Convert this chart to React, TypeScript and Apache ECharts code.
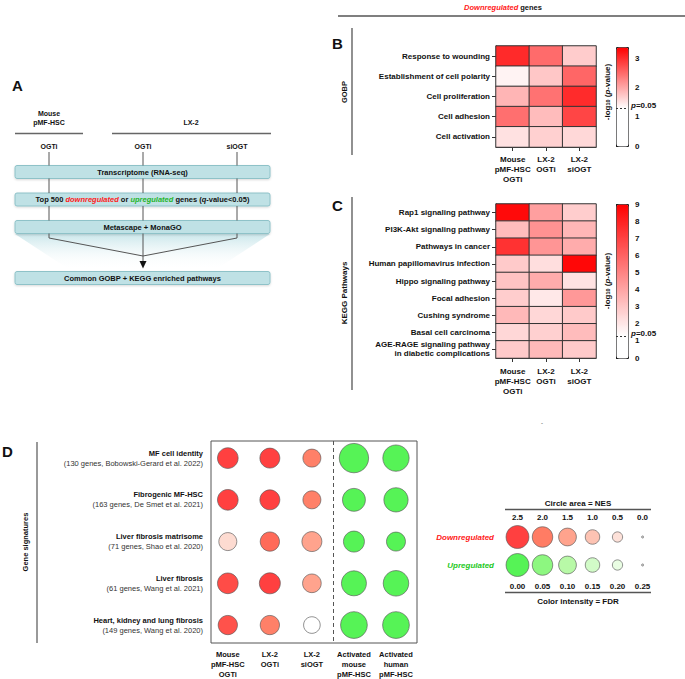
import React, { useEffect, useRef } from 'react';
import * as echarts from 'echarts';

const FONT = '"Liberation Sans", Arial, Helvetica, sans-serif';

// ---------- Panel B / C data ----------
const heatCols = ['Mouse\npMF-HSC\nOGTi', 'LX-2\nOGTi', 'LX-2\nsiOGT'];
const gobpTerms = [
  'Response to wounding',
  'Establishment of cell polarity',
  'Cell proliferation',
  'Cell adhesion',
  'Cell activation',
];
const gobpValues = [
  [3.05, 2.52, 1.72],
  [1.4, 1.76, 2.56],
  [1.91, 2.46, 3.04],
  [2.48, 1.85, 2.83],
  [1.55, 1.68, 1.62],
];
const keggTerms = [
  'Rap1 signaling pathway',
  'PI3K-Akt signaling pathway',
  'Pathways in cancer',
  'Human papillomavirus infection',
  'Hippo signaling pathway',
  'Focal adhesion',
  'Cushing syndrome',
  'Basal cell carcinoma',
  'AGE-RAGE signaling pathway\nin diabetic complications',
];
const keggValues = [
  [8.7, 4.2, 2.8],
  [3.3, 4.6, 3.5],
  [7.5, 4.5, 3.8],
  [2.9, 2.3, 8.8],
  [3.1, 3.8, 2.2],
  [2.8, 2.0, 4.4],
  [3.4, 2.5, 2.9],
  [2.5, 2.7, 3.3],
  [2.9, 3.4, 2.9],
];
const gobpMax = 3.4;
const keggMax = 9;
const gobpTicks = [0, 1, 2, 3];
const keggTicks = [0, 1, 2, 3, 4, 5, 6, 7, 8, 9];
const pThreshold = 1.3; // -log10(0.05)

// ---------- Panel D data ----------
const sigTitles = [
  'MF cell identity',
  'Fibrogenic MF-HSC',
  'Liver fibrosis matrisome',
  'Liver fibrosis',
  'Heart, kidney and lung fibrosis',
];
const sigSources = [
  '(130 genes, Bobowski-Gerard et al. 2022)',
  '(163 genes, De Smet et al. 2021)',
  '(71 genes, Shao et al. 2020)',
  '(61 genes, Wang et al. 2021)',
  '(149 genes, Wang et al. 2020)',
];
const sigCols = [
  'Mouse\npMF-HSC\nOGTi',
  'LX-2\nOGTi',
  'LX-2\nsiOGT',
  'Activated\nmouse\npMF-HSC',
  'Activated\nhuman\npMF-HSC',
];
const downNES = [
  [2.04, 1.9, 1.54],
  [2.04, 1.9, 1.54],
  [1.54, 1.77, 1.9],
  [2.04, 2.1, 1.66],
  [1.77, 1.77, 1.32],
];
const downFDR = [
  [0.0, 0.0, 0.055],
  [0.0, 0.0, 0.055],
  [0.19, 0.035, 0.1],
  [0.01, 0.0, 0.1],
  [0.015, 0.055, 0.25],
];
const upNES = [
  [4.1, 3.3],
  [2.5, 2.8],
  [2.1, 1.72],
  [2.97, 3.1],
  [3.4, 3.4],
];
const upFDR = [
  [0, 0],
  [0, 0],
  [0, 0],
  [0, 0],
  [0, 0],
];
const legendNES = [2.5, 2.0, 1.5, 1.0, 0.5, 0.0];
const legendFDR = [0.0, 0.05, 0.1, 0.15, 0.2, 0.25];
const legendNESLabels = ['2.5', '2.0', '1.5', '1.0', '0.5', '0.0'];
const legendFDRLabels = ['0.00', '0.05', '0.10', '0.15', '0.20', '0.25'];
const legendRows = ['Downregulated', 'Upregulated'];

const redScale = ['#ff1010', '#ff5b3d', '#ff8c70', '#fdb4a0', '#fddad0', '#ffffff'];
const greenScale = ['#2cf02c', '#70f560', '#a6f891', '#c7faba', '#e4fcdc', '#ffffff'];

function heatColors(max: number, n = 68) {
  const out: string[] = [];
  for (let i = 0; i <= n; i++) {
    const v = (max * i) / n;
    const t = v <= pThreshold ? 0 : (v - pThreshold) / (max - pThreshold);
    const gb = Math.round(255 * (1 - t));
    out.push(`rgb(255,${gb},${gb})`);
  }
  return out;
}

const nesSize = (val: number[]) => Math.max(2, 14.5 * Math.sqrt(val[2]));

function heatData(values: number[][]) {
  const d: number[][] = [];
  values.forEach((row, r) => row.forEach((v, c) => d.push([c, r, v])));
  return d;
}

const txt = (x: number, y: number, text: string, o: any = {}) => ({
  type: 'text',
  x,
  y,
  rotation: o.rotation ?? 0,
  silent: true,
  z: 50,
  style: {
    text,
    fontSize: o.size ?? 8,
    fontWeight: o.weight ?? 'bold',
    fontStyle: o.style ?? 'normal',
    fontFamily: FONT,
    fill: o.color ?? '#111',
    align: o.align ?? 'center',
    verticalAlign: 'middle',
    lineHeight: o.lineHeight,
    rich: o.rich,
  },
});
const ln = (x1: number, y1: number, x2: number, y2: number, color = '#555', width = 1) => ({
  type: 'line',
  silent: true,
  z: 40,
  shape: { x1, y1, x2, y2 },
  style: { stroke: color, lineWidth: width },
});

function buildGraphic() {
  const g: any[] = [];
  // ----- Panel A -----
  g.push({
    type: 'polygon',
    silent: true,
    z: 30,
    shape: { points: [[15, 234], [270, 234], [215, 270], [70, 270]] },
    style: {
      fill: {
        type: 'linear', x: 0, y: 0, x2: 0, y2: 1,
        colorStops: [
          { offset: 0, color: 'rgba(180,220,226,0.7)' },
          { offset: 1, color: 'rgba(255,255,255,0)' },
        ],
      },
    },
  });
  const boxTops = [165.5, 193, 220.5, 271.5];
  const boxTexts = [
    'Transcriptome (RNA-seq)',
    '{n|Top 500 }{r|downregulated}{n| or }{g|upregulated}{n| genes (}{i|q}{n|-value<0.05)}',
    'Metascape + MonaGO',
    'Common GOBP + KEGG enriched pathways',
  ];
  const rs = (extra: any) => ({ fontSize: 7.5, fontWeight: 'bold', fontFamily: FONT, fill: '#111', ...extra });
  boxTops.forEach((y, i) => {
    g.push({
      type: 'rect', silent: true, z: 35,
      shape: { x: 15, y, width: 255, height: 13, r: 2 },
      style: { fill: '#bfe1e5', stroke: '#8ec2c8', lineWidth: 1, shadowBlur: 2, shadowColor: 'rgba(0,0,0,0.15)', shadowOffsetY: 1 },
    });
    g.push(txt(142.5, y + 6.8, boxTexts[i], {
      size: 7.5,
      rich: {
        n: rs({}),
        r: rs({ fill: '#ff2020', fontStyle: 'italic' }),
        g: rs({ fill: '#1fb52a', fontStyle: 'italic' }),
        i: rs({ fontStyle: 'italic' }),
      },
    }));
  });
  g.push(txt(12, 85, 'A', { size: 15, align: 'left' }));
  g.push(txt(49, 118, 'Mouse\npMF-HSC', { size: 7, lineHeight: 8.5 }));
  g.push(txt(191, 122, 'LX-2', { size: 7 }));
  g.push(ln(15, 133.5, 83, 133.5, '#666', 1.3));
  g.push(ln(112, 133.5, 271, 133.5, '#666', 1.3));
  const xs = [49, 143, 237];
  g.push(txt(49, 146, 'OGTi', { size: 7 }));
  g.push(txt(143, 146, 'OGTi', { size: 7 }));
  g.push(txt(237, 146, 'siOGT', { size: 7 }));
  xs.forEach((x) => {
    g.push(ln(x, 152, x, 165.5, '#555', 1));
    g.push(ln(x, 178.5, x, 193, '#555', 1));
    g.push(ln(x, 206, x, 220.5, '#555', 1));
  });
  g.push({ type: 'polyline', silent: true, z: 40, shape: { points: [[49, 233.5], [49, 238], [143, 256]] }, style: { stroke: '#555', lineWidth: 1, fill: null } });
  g.push({ type: 'polyline', silent: true, z: 40, shape: { points: [[237, 233.5], [237, 238], [143, 256]] }, style: { stroke: '#555', lineWidth: 1, fill: null } });
  g.push(ln(143, 233.5, 143, 262, '#555', 1));
  g.push({ type: 'polygon', silent: true, z: 40, shape: { points: [[139.5, 261], [146.5, 261], [143, 268.5]] }, style: { fill: '#111' } });

  // ----- Header -----
  g.push(txt(503, 7, '{r|Downregulated}{n| genes}', {
    rich: {
      r: { fontSize: 7.5, fontWeight: 'bold', fontStyle: 'italic', fontFamily: FONT, fill: '#ff2020' },
      n: { fontSize: 7.5, fontWeight: 'bold', fontFamily: FONT, fill: '#111' },
    },
  }));
  g.push(ln(338, 16, 685, 16, '#555', 1.3));

  // ----- Panel B / C frames -----
  g.push(txt(332, 43, 'B', { size: 15, align: 'left' }));
  g.push(txt(332, 205, 'C', { size: 15, align: 'left' }));
  g.push(ln(352, 28, 352, 155, '#555', 1.3));
  g.push(ln(352, 197, 352, 390, '#555', 1.3));
  g.push(txt(344, 92, 'GOBP', { size: 7.5, rotation: Math.PI / 2 }));
  g.push(txt(344, 293, 'KEGG Pathways', { size: 8, rotation: Math.PI / 2 }));
  const logRich = {
    a: { fontSize: 8, fontWeight: 'bold', fontFamily: FONT, fill: '#111' },
    s: { fontSize: 5.5, fontWeight: 'bold', fontFamily: FONT, fill: '#111', verticalAlign: 'bottom' },
    i: { fontSize: 8, fontWeight: 'bold', fontStyle: 'italic', fontFamily: FONT, fill: '#111' },
  };
  const logText = '{a|-log}{s|10}{a| (}{i|p}{a|-value)}';
  g.push(txt(607, 92, logText, { rotation: Math.PI / 2, rich: logRich }));
  g.push(txt(607, 281, logText, { rotation: Math.PI / 2, rich: logRich }));
  g.push(txt(542, 423, '-', { size: 6, weight: 'normal', color: '#333' }));

  // ----- Panel D -----
  g.push(txt(2, 451, 'D', { size: 15, align: 'left' }));
  g.push(ln(37, 442, 37, 643, '#777', 1.5));
  g.push(txt(25, 542, 'Gene signatures', { size: 7.5, rotation: Math.PI / 2 }));
  g.push(txt(578, 503, 'Circle area = NES', { size: 8 }));
  g.push(ln(505, 509.5, 651, 509.5, '#555', 1.3));
  g.push(ln(505, 592.5, 651, 592.5, '#555', 1.3));
  g.push(txt(578, 601, 'Color intensity = FDR', { size: 8 }));
  return g;
}

const boldLabel = { fontSize: 8, fontWeight: 'bold', color: '#111', fontFamily: FONT };

function heatX(gridIndex: number, margin: number) {
  return {
    type: 'category', gridIndex, data: heatCols,
    axisLine: { show: true, lineStyle: { color: '#333', width: 1 } },
    axisTick: { show: true, alignWithLabel: true, length: 4, lineStyle: { color: '#333' } },
    axisLabel: { ...boldLabel, interval: 0, lineHeight: 10, margin },
    splitLine: { show: false },
  };
}
function heatY(gridIndex: number, data: string[]) {
  return {
    type: 'category', gridIndex, data, inverse: true,
    axisLine: { show: true, lineStyle: { color: '#333', width: 1 } },
    axisTick: { show: true, alignWithLabel: true, length: 4, lineStyle: { color: '#333' } },
    axisLabel: { ...boldLabel, interval: 0, lineHeight: 9, margin: 6 },
    splitLine: { show: false },
  };
}
function barY(gridIndex: number, max: number, ticks: number[]) {
  return {
    type: 'value', gridIndex, min: 0, max, position: 'right',
    axisLine: { show: false },
    splitLine: { show: false },
    axisTick: { show: true, length: 4, customValues: ticks, lineStyle: { color: '#222' } },
    axisLabel: { ...boldLabel, customValues: ticks, margin: 7 },
  };
}
function pLine(xAxisIndex: number, yAxisIndex: number) {
  return {
    type: 'line', xAxisIndex, yAxisIndex, data: [[0, 0]], symbol: 'none', silent: true, z: 10,
    lineStyle: { opacity: 0 },
    markLine: {
      silent: true, symbol: 'none', animation: false,
      lineStyle: { color: '#333', type: [2, 2], width: 1 },
      label: {
        show: true, position: 'end', distance: 3, formatter: '{i|p}=0.05',
        ...boldLabel,
        padding: [0, 0, 5, 0],
        rich: { i: { ...boldLabel, fontStyle: 'italic' } },
      },
      data: [{ yAxis: pThreshold }],
    },
  };
}

function buildOption(): any {
  const downData: number[][] = [];
  downNES.forEach((row, r) => row.forEach((n, c) => downData.push([c, r, n, downFDR[r][c]])));
  const upData: number[][] = [];
  upNES.forEach((row, r) => row.forEach((n, c) => upData.push([c + 3, r, n, upFDR[r][c]])));
  const legDown = legendNES.map((n, i) => [i, 0, n, legendFDR[i]]);
  const legUp = legendNES.map((n, i) => [i, 1, n, legendFDR[i]]);
  const circleStyle = { borderColor: '#555', borderWidth: 0.8 };

  return {
    animation: false,
    textStyle: { fontFamily: FONT },
    grid: [
      { left: 496, top: 46, width: 100, height: 101 },
      { left: 616, top: 47, width: 12, height: 99 },
      { left: 496, top: 204, width: 100, height: 154 },
      { left: 616, top: 204, width: 12, height: 154 },
      { left: 211, top: 441, width: 206, height: 202, show: true, borderColor: '#555', borderWidth: 1 },
      { left: 505, top: 523, width: 150, height: 56 },
    ],
    xAxis: [
      heatX(0, 7),
      { type: 'value', gridIndex: 1, show: false, min: 0, max: 1 },
      heatX(2, 8),
      { type: 'value', gridIndex: 3, show: false, min: 0, max: 1 },
      {
        type: 'value', gridIndex: 4, min: -0.4, max: 4.5,
        axisLine: { show: false }, axisTick: { show: false }, splitLine: { show: false },
        axisLabel: {
          ...boldLabel, fontSize: 7.5, lineHeight: 10, margin: 6, customValues: [0, 1, 2, 3, 4],
          formatter: (v: number) => sigCols[Math.round(v)] ?? '',
        },
      },
      {
        type: 'category', gridIndex: 5, data: legendNESLabels, position: 'top',
        axisLine: { show: false }, axisTick: { show: false },
        axisLabel: { ...boldLabel, margin: 2, interval: 0 },
      },
      {
        type: 'category', gridIndex: 5, data: legendFDRLabels, position: 'bottom',
        axisLine: { show: false }, axisTick: { show: false },
        axisLabel: { ...boldLabel, margin: 3, interval: 0 },
      },
    ],
    yAxis: [
      heatY(0, gobpTerms),
      barY(1, gobpMax, gobpTicks),
      heatY(2, keggTerms),
      barY(3, keggMax, keggTicks),
      {
        type: 'value', gridIndex: 4, inverse: true, min: -0.41, max: 4.43,
        axisLine: { show: false }, axisTick: { show: false }, splitLine: { show: false },
        axisLabel: {
          customValues: [0, 1, 2, 3, 4], margin: 8, align: 'right',
          formatter: (v: number) => {
            const i = Math.round(v);
            return `{t|${sigTitles[i]}}\n{s|${sigSources[i]}}`;
          },
          rich: {
            t: { fontSize: 7.5, fontWeight: 'bold', color: '#111', fontFamily: FONT, lineHeight: 10, align: 'right' },
            s: { fontSize: 7.5, fontWeight: 'normal', color: '#333', fontFamily: FONT, lineHeight: 10, align: 'right' },
          },
        },
      },
      {
        type: 'category', gridIndex: 5, inverse: true,
        data: [
          { value: legendRows[0], textStyle: { color: '#ff2020' } },
          { value: legendRows[1], textStyle: { color: '#22c822' } },
        ],
        axisLine: { show: false }, axisTick: { show: false },
        axisLabel: { ...boldLabel, fontStyle: 'italic', margin: 11 },
      },
    ],
    visualMap: [
      {
        type: 'continuous', seriesIndex: 0, min: 0, max: gobpMax, dimension: 2,
        inRange: { color: heatColors(gobpMax) },
        show: true, calculable: false, hoverLink: false, orient: 'vertical',
        left: 616, top: 47, itemWidth: 12, itemHeight: 99, padding: 0,
        borderColor: '#222', borderWidth: 1,
      },
      {
        type: 'continuous', seriesIndex: 2, min: 0, max: keggMax, dimension: 2,
        inRange: { color: heatColors(keggMax) },
        show: true, calculable: false, hoverLink: false, orient: 'vertical',
        left: 616, top: 204, itemWidth: 12, itemHeight: 154, padding: 0,
        borderColor: '#222', borderWidth: 1,
      },
      {
        type: 'continuous', seriesIndex: [4, 7], dimension: 3, min: 0, max: 0.25,
        inRange: { color: redScale }, show: false,
      },
      {
        type: 'continuous', seriesIndex: [5, 8], dimension: 3, min: 0, max: 0.25,
        inRange: { color: greenScale }, show: false,
      },
    ],
    series: [
      {
        type: 'heatmap', xAxisIndex: 0, yAxisIndex: 0, data: heatData(gobpValues),
        itemStyle: { borderColor: '#333', borderWidth: 1 }, emphasis: { disabled: true },
      },
      pLine(1, 1),
      {
        type: 'heatmap', xAxisIndex: 2, yAxisIndex: 2, data: heatData(keggValues),
        itemStyle: { borderColor: '#333', borderWidth: 1 }, emphasis: { disabled: true },
      },
      pLine(3, 3),
      {
        type: 'scatter', xAxisIndex: 4, yAxisIndex: 4, data: downData, symbolSize: nesSize,
        itemStyle: circleStyle, emphasis: { disabled: true },
        markLine: {
          silent: true, symbol: 'none', label: { show: false },
          lineStyle: { color: '#555', type: [4, 3], width: 1 },
          data: [{ xAxis: 2.5 }],
        },
      },
      {
        type: 'scatter', xAxisIndex: 4, yAxisIndex: 4, data: upData, symbolSize: nesSize,
        itemStyle: circleStyle, emphasis: { disabled: true },
      },
      { type: 'line', xAxisIndex: 4, yAxisIndex: 4, data: [], silent: true },
      {
        type: 'scatter', xAxisIndex: 5, yAxisIndex: 5, data: legDown, symbolSize: nesSize,
        itemStyle: circleStyle, emphasis: { disabled: true },
      },
      {
        type: 'scatter', xAxisIndex: 5, yAxisIndex: 5, data: legUp, symbolSize: nesSize,
        itemStyle: circleStyle, emphasis: { disabled: true },
      },
    ],
    graphic: buildGraphic(),
  };
}

export default function App() {
  const ref = useRef<HTMLDivElement>(null);
  useEffect(() => {
    document.body.style.margin = '0';
    const chart = echarts.init(ref.current!, null, { renderer: 'svg' });
    chart.setOption(buildOption());
    return () => chart.dispose();
  }, []);
  return <div ref={ref} style={{ width: 685, height: 679 }} />;
}
